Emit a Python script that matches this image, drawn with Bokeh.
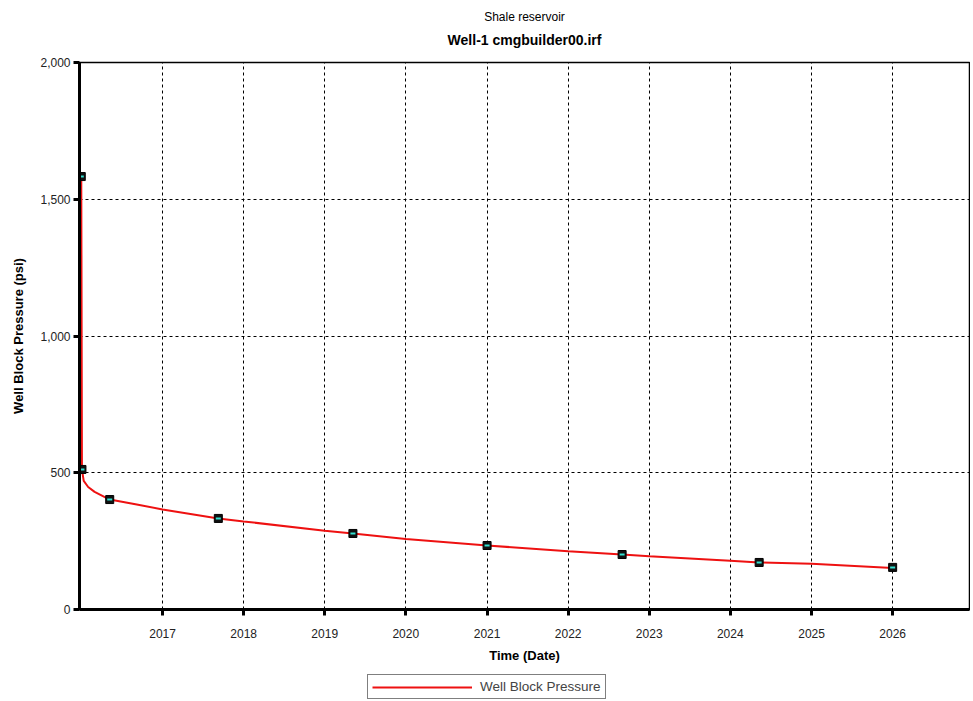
from datetime import datetime
from bokeh.plotting import figure
from bokeh.layouts import column
from bokeh.models import (Title, Legend, LegendItem, FixedTicker, DatetimeTickFormatter,
                          NumeralTickFormatter, Range1d)
from bokeh.embed import file_html
from bokeh.resources import INLINE

# ---- data ----
line_dates = ["2016-01-01 00:00", "2016-01-04 00:00", "2016-01-12", "2016-02-01", "2016-03-01",
              "2016-05-08", "2016-09-01", "2017-01-01", "2017-09-09", "2018-01-01",
              "2019-01-01", "2019-05-08", "2020-01-01", "2021-01-01", "2022-01-01",
              "2022-09-01", "2023-01-01", "2024-01-01", "2024-05-10", "2025-01-01",
              "2026-01-01"]
line_psi = [1585, 512, 470, 448, 430, 402, 385, 366, 333, 322,
            288, 278, 258, 234, 213, 201, 195, 178, 172, 167, 152]

marker_dates = ["2016-01-01", "2016-01-04", "2016-05-08", "2017-09-09", "2019-05-08",
                "2021-01-01", "2022-09-01", "2024-05-10", "2026-01-01"]
marker_psi = [1583, 512, 402, 333, 278, 234, 201, 172, 154]

year_ticks = [2017, 2018, 2019, 2020, 2021, 2022, 2023, 2024, 2025, 2026]
y_ticks = [0, 500, 1000, 1500, 2000]

title_main = "Well-1 cmgbuilder00.irf"
title_sub = "Shale reservoir"
x_label = "Time (Date)"
y_label = "Well Block Pressure (psi)"
series_name = "Well Block Pressure"


def parse(s):
    for fmt in ("%Y-%m-%d %H:%M", "%Y-%m-%d"):
        try:
            return datetime.strptime(s, fmt)
        except ValueError:
            pass


lx = [parse(d) for d in line_dates]
mx = [parse(d) for d in marker_dates]

FONT = "Liberation Sans"
RED = "#ee1111"

p = figure(width=970, height=672, x_axis_type="datetime", output_backend="svg",
           toolbar_location=None,
           x_range=Range1d(datetime(2015, 12, 24), datetime(2026, 12, 13)),
           y_range=Range1d(0, 2000),
           min_border_left=79, min_border_right=1, min_border_top=62, min_border_bottom=63)

# spacer (nearest the frame), then main title, then subtitle
p.add_layout(Title(text=" ", text_font=FONT, text_font_size="6px", standoff=1), "above")
p.add_layout(Title(text=title_main, align="center", text_font=FONT, text_font_size="14px",
                   text_font_style="bold", text_color="black", standoff=12), "above")
p.add_layout(Title(text=title_sub, align="center", text_font=FONT, text_font_size="12px",
                   text_font_style="normal", text_color="black", standoff=0), "above")

p.line(lx, line_psi, line_color=RED, line_width=2)
p.scatter(mx, marker_psi, marker="square", size=8, fill_color="#101010", line_color="black")
p.scatter(mx, marker_psi, marker="dash", size=5, line_color="#33e0d0", line_width=2)

# axes
p.xaxis.ticker = FixedTicker(ticks=[datetime(y, 1, 1).timestamp() * 1000 for y in year_ticks])
p.xaxis.formatter = DatetimeTickFormatter(years="%Y", months="%Y", days="%Y", hours="%Y",
                                          hourmin="%Y", minutes="%Y", minsec="%Y",
                                          seconds="%Y", milliseconds="%Y", microseconds="%Y")
p.yaxis.ticker = FixedTicker(ticks=y_ticks)
p.yaxis.formatter = NumeralTickFormatter(format="0,0")

for ax in (p.xaxis[0], p.yaxis[0]):
    ax.axis_line_width = 3
    ax.axis_line_color = "black"
    ax.major_tick_line_width = 3
    ax.major_tick_line_color = "black"
    ax.major_tick_out = 6
    ax.major_tick_in = 0
    ax.minor_tick_line_color = None
    ax.major_label_text_font = FONT
    ax.major_label_text_font_size = "12px"
    ax.major_label_text_color = "#222222"
    ax.axis_label_text_font = FONT
    ax.axis_label_text_font_size = "13px"
    ax.axis_label_text_font_style = "bold"
    ax.axis_label_text_color = "black"

p.xaxis.major_label_standoff = 13
p.yaxis.major_label_standoff = 3
p.xaxis.axis_label = x_label
p.yaxis.axis_label = y_label
p.xaxis.axis_label_standoff = 7
p.yaxis.axis_label_standoff = 11

p.xgrid.ticker = FixedTicker(ticks=[datetime(y, 1, 1).timestamp() * 1000 for y in year_ticks])
p.ygrid.ticker = FixedTicker(ticks=[500, 1000, 1500])
for g in (p.xgrid[0], p.ygrid[0]):
    g.grid_line_color = "black"
    g.grid_line_dash = "3 3"
    g.grid_line_width = 1

p.outline_line_color = "black"
p.outline_line_width = 1.5
p.background_fill_color = "white"
p.border_fill_color = "white"

# legend in a small strip below the chart
lg = figure(width=970, height=27, output_backend="svg", toolbar_location=None,
            x_range=Range1d(0, 1), y_range=Range1d(0, 1), min_border=0)
lg.axis.visible = False
lg.grid.visible = False
lg.outline_line_color = None
lr = lg.line(x=[-2, -1], y=[-2, -1], line_color=RED, line_width=2)
legend = Legend(items=[LegendItem(label=series_name, renderers=[lr])], location=(288, 0),
                orientation="horizontal", border_line_color="black", border_line_width=1,
                label_text_font=FONT, label_text_font_size="13.5px", glyph_width=100,
                glyph_height=12, padding=4, margin=0, label_standoff=8, spacing=0,
                label_height=14)
lg.add_layout(legend)

open("out.html", "w").write(file_html(column(p, lg, spacing=0), INLINE))
